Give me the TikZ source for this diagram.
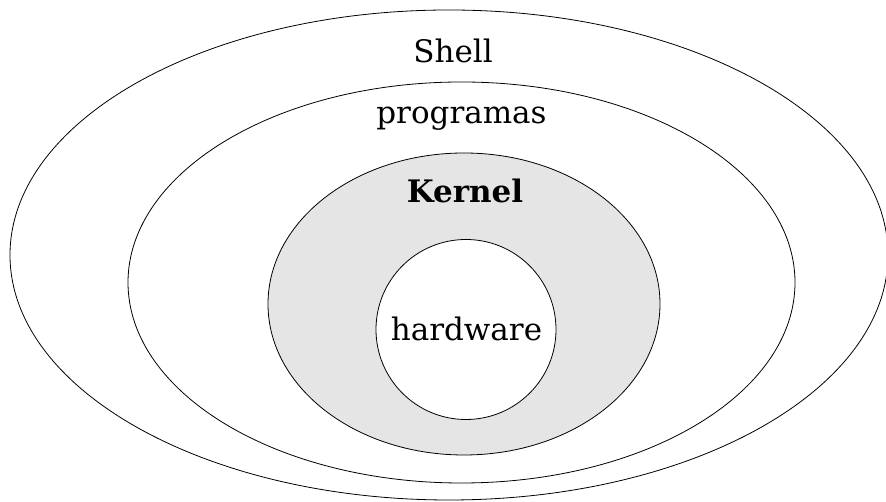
\documentclass[tikz,border=0pt]{standalone}
\usepackage{fontspec}
\setmainfont{DejaVu Serif}
\usepackage{tikz}
\usetikzlibrary{shapes.geometric, positioning}

\begin{document}
\begin{tikzpicture}[
        x=1pt, y=1pt,
        layer/.style={draw, ellipse, line width=0.8pt, inner sep=0pt},
        tag/.style={font=\fontsize{31}{37}\selectfont, anchor=base, inner sep=0pt}
    ]
        \useasboundingbox (0,0) rectangle (886,502);
        \node[layer, minimum width=878pt, minimum height=490pt] (shell) at (449,247) {};
        \node[layer, minimum width=667pt, minimum height=401pt] (prog) at (461.5,219.5) {};
        \node[layer, fill=black!10, minimum width=392pt, minimum height=302pt] (kernel) at (464,198) {};
        \node[layer, circle, fill=white, minimum size=180pt] (hw) at (466,172.5) {};

        \node[tag] (shelltxt) at (453,439.3) {Shell};
        \node[tag] (progtxt) at (461.5,378) {programas};
        \node[tag, font=\fontsize{31}{37}\selectfont\bfseries] (kerneltxt) at (465,299) {Kernel};
        \node[tag] (hwtxt) at (466.5,161.3) {hardware};
    \end{tikzpicture}
\end{document}
